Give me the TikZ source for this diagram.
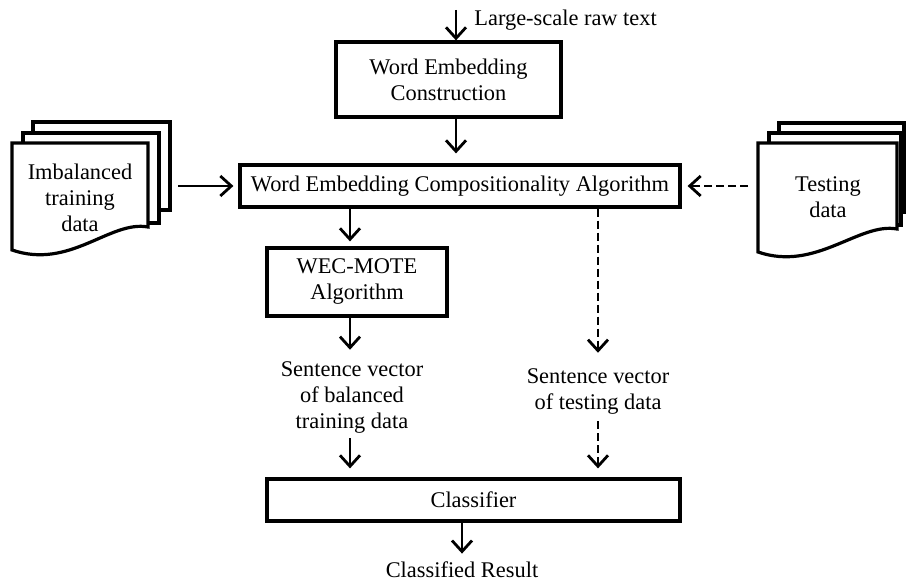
\documentclass[tikz,border=0pt]{standalone}
\usepackage{fontspec}
\setmainfont{Liberation Serif}
\usetikzlibrary{arrows.meta,positioning}
\tikzstyle{block} = [draw, line width=1.6pt, rectangle, align=center, inner sep=0pt]
\tikzstyle{plaintext} = [align=center, inner sep=0pt]
\tikzstyle{flow} = [line width=1.4pt, -{Straight Barb[length=5.5pt,width=10pt,line width=1.4pt]}]
\tikzstyle{flowdash} = [flow, dash pattern=on 4pt off 2pt]
\tikzstyle{doc} = [draw, line width=1.6pt, fill=white]

\begin{document}
\begin{tikzpicture}[x=0.5pt, y=-0.5pt, font=\fontsize{11.2}{13}\selectfont]
\useasboundingbox (0,0) rectangle (906,581);

% processing blocks
\node[block, minimum width=112.5pt, minimum height=37.5pt] (wec) at (448.5,79.5) {Word Embedding\\Construction};
\node[block, minimum width=220pt, minimum height=21pt] (weca) at (460,186) {Word Embedding Compositionality Algorithm};
\node[block, minimum width=90pt, minimum height=34pt] (mote) at (357,282) {WEC-MOTE\\Algorithm};
\node[block, minimum width=206.5pt, minimum height=21pt] (clf) at (473.5,500) {Classifier};

% plain labels
\node[plaintext, anchor=west] (raw) at (474,20) {Large-scale raw text};
\node[plaintext] (sv1) at (352,398) {Sentence vector\\of balanced\\training data};
\node[plaintext] (sv2) at (598,392) {Sentence vector\\of testing data};
\node[plaintext] (res) at (462,570) {Classified Result};

% document stacks
\draw[doc] (33,122) rectangle (170,210);
\draw[doc] (23,133) rectangle (159,223);
\draw[doc] (12,143) -- (148,143) -- (148,227) .. controls (110,220) and (70,270) .. (12,250) -- cycle;
\node[plaintext] (train) at (80,198) {Imbalanced\\training\\data};

\draw[doc] (779,123) rectangle (904,212);
\draw[doc] (769,133) rectangle (901,225);
\draw[doc] (758,143) -- (897,143) -- (897,229) .. controls (859,222) and (816,272) .. (758,252) -- cycle;
\node[plaintext] (test) at (828,197) {Testing\\data};

\coordinate (rawin) at (456,10);
\coordinate (trainout) at (178,186);
\coordinate (testout) at (748,186);

% connectors
\draw[flow] (rawin) -- (rawin |- wec.north);
\draw[flow, shorten >=5pt] (wec.south -| rawin) -- (rawin |- weca.north);
\draw[flow, shorten >=2.5pt] (trainout) -- (weca.west);
\draw[flowdash, shorten >=3pt] (testout) -- (weca.east);
\draw[flow, shorten >=2.5pt] (weca.south -| 350,0) -- (mote.north -| 350,0);
\draw[flow, shorten >=6pt] (mote.south -| 350,0) -- (sv1.north -| 350,0);
\draw[flow, shorten >=4.5pt, shorten <=2pt] (sv1.south -| 350,0) -- (clf.north -| 350,0);
\draw[flowdash, shorten >=8pt] (weca.south -| sv2) -- (sv2.north);
\draw[flowdash, shorten >=4.5pt, shorten <=3pt] (sv2.south) -- (clf.north -| sv2);
\draw[flow, shorten >=4pt] (clf.south -| res) -- (res.north);
\end{tikzpicture}
\end{document}
